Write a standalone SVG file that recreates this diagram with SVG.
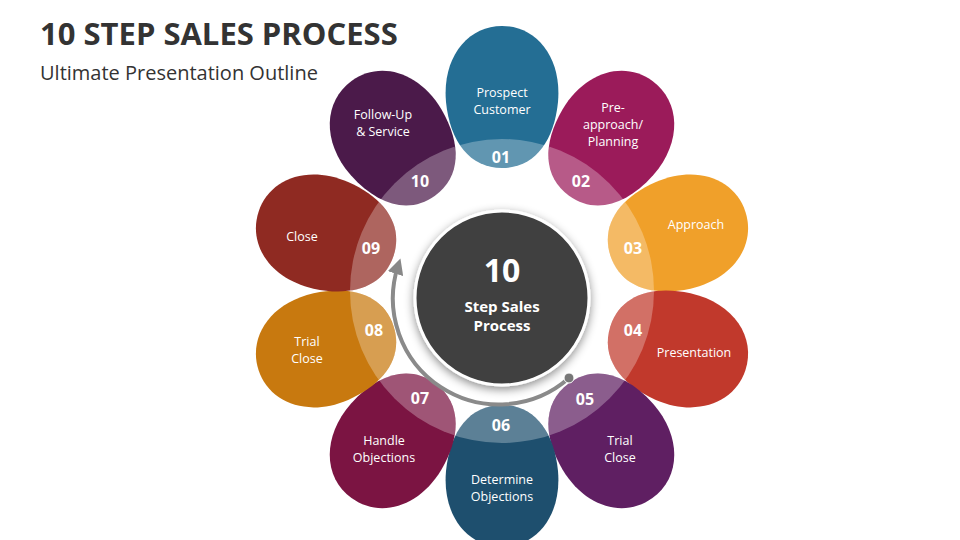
<svg xmlns="http://www.w3.org/2000/svg" xmlns:xlink="http://www.w3.org/1999/xlink" width="960" height="540" viewBox="0 0 960 540">
<style>
.t{font-family:"Open Sans","Liberation Sans",sans-serif;fill:#fff;font-size:12.5px;text-anchor:middle}
.n{font-family:"Open Sans","Liberation Sans",sans-serif;fill:#fff;font-size:16px;font-weight:bold;text-anchor:middle}
</style>
<defs>
<path id="p" d="M0,-114 C-32,-114 -52,-140 -56,-180 C-60,-225 -34,-256 0,-256 C34,-256 60,-225 56,-180 C52,-140 32,-114 0,-114 Z"/>
<clipPath id="cp">
<use xlink:href="#p" transform="translate(502,291) rotate(0)"/>
<use xlink:href="#p" transform="translate(502,291) rotate(36)"/>
<use xlink:href="#p" transform="translate(502,291) rotate(72)"/>
<use xlink:href="#p" transform="translate(502,291) rotate(108)"/>
<use xlink:href="#p" transform="translate(502,291) rotate(144)"/>
<use xlink:href="#p" transform="translate(502,291) rotate(180)"/>
<use xlink:href="#p" transform="translate(502,291) rotate(216)"/>
<use xlink:href="#p" transform="translate(502,291) rotate(252)"/>
<use xlink:href="#p" transform="translate(502,291) rotate(288)"/>
<use xlink:href="#p" transform="translate(502,291) rotate(324)"/>
</clipPath>
<marker id="ah" viewBox="0 0 10 10" refX="5" refY="5" markerWidth="4" markerHeight="4" orient="auto"><path d="M0,0 L10,5 L0,10 Z" fill="#888"/></marker>
<filter id="sh" x="-30%" y="-30%" width="160%" height="160%"><feDropShadow dx="0" dy="3" stdDeviation="5" flood-color="#000" flood-opacity="0.45"/></filter>
</defs>
<rect width="960" height="540" fill="#fff"/>
<text x="40" y="45" font-family="'Open Sans','Liberation Sans',sans-serif" font-size="31" font-weight="bold" fill="#333">10 STEP SALES PROCESS</text>
<text x="40" y="80" font-family="'Open Sans','Liberation Sans',sans-serif" font-size="20" fill="#333">Ultimate Presentation Outline</text>
<g id="petals">
<g id="s01"><use xlink:href="#p" fill="#246e94" transform="translate(502,282) rotate(0)"/></g>
<g id="s02"><use xlink:href="#p" fill="#9b1b5a" transform="translate(502,288) rotate(36)"/></g>
<g id="s03"><use xlink:href="#p" fill="#f0a02a" transform="translate(502,291) rotate(72)"/></g>
<g id="s04"><use xlink:href="#p" fill="#c1392c" transform="translate(502,291) rotate(108)"/></g>
<g id="s05"><use xlink:href="#p" fill="#5f1f62" transform="translate(502,291) rotate(144)"/></g>
<g id="s06"><use xlink:href="#p" fill="#1e4f6e" transform="translate(502,291) rotate(180)"/></g>
<g id="s07"><use xlink:href="#p" fill="#7b1442" transform="translate(502,291) rotate(216)"/></g>
<g id="s08"><use xlink:href="#p" fill="#c8790f" transform="translate(502,291) rotate(252)"/></g>
<g id="s09"><use xlink:href="#p" fill="#8f2a22" transform="translate(502,291) rotate(288)"/></g>
<g id="s10"><use xlink:href="#p" fill="#4b1a4a" transform="translate(502,288) rotate(324)"/></g>
</g>
<circle cx="502" cy="291" r="152" fill="#fff" opacity="0.28" clip-path="url(#cp)"/>
<g id="labels">
<text class="n" x="501" y="163">01</text>
<text class="n" x="581" y="187">02</text>
<text class="n" x="633" y="254">03</text>
<text class="n" x="633" y="336">04</text>
<text class="n" x="585" y="405">05</text>
<text class="n" x="501" y="431">06</text>
<text class="n" x="420" y="404">07</text>
<text class="n" x="374" y="336">08</text>
<text class="n" x="371" y="254">09</text>
<text class="n" x="420" y="187">10</text>
<text class="t" x="502" y="97">Prospect</text><text class="t" x="502" y="114">Customer</text>
<text class="t" x="613" y="112">Pre-</text><text class="t" x="613" y="129">approach/</text><text class="t" x="613" y="146">Planning</text>
<text class="t" x="696" y="229">Approach</text>
<text class="t" x="694" y="357">Presentation</text>
<text class="t" x="620" y="445">Trial</text><text class="t" x="620" y="462">Close</text>
<text class="t" x="502" y="484">Determine</text><text class="t" x="502" y="501">Objections</text>
<text class="t" x="384" y="445">Handle</text><text class="t" x="384" y="462">Objections</text>
<text class="t" x="307" y="346">Trial</text><text class="t" x="307" y="363">Close</text>
<text class="t" x="302" y="241">Close</text>
<text class="t" x="383" y="119">Follow-Up</text><text class="t" x="383" y="136">&amp; Service</text>
</g>
<g id="connectors">
<path d="M569,378 A106,106 0 0 1 398,266" fill="none" stroke="#8a8a8a" stroke-width="4" marker-end="url(#ah)"/>
<circle cx="569" cy="378" r="5" fill="#777" stroke="#fff" stroke-width="1"/>
</g>
<g id="center">
<circle cx="502" cy="298" r="87" fill="#3f3f3f" stroke="#fff" stroke-width="3" filter="url(#sh)"/>
<text x="502" y="282" font-family="'Open Sans','Liberation Sans',sans-serif" font-size="32" font-weight="bold" fill="#fff" text-anchor="middle">10</text>
<text x="502" y="312" font-family="'Open Sans','Liberation Sans',sans-serif" font-size="15" font-weight="bold" fill="#fff" text-anchor="middle">Step Sales</text>
<text x="502" y="331" font-family="'Open Sans','Liberation Sans',sans-serif" font-size="15" font-weight="bold" fill="#fff" text-anchor="middle">Process</text>
</g>
</svg>
